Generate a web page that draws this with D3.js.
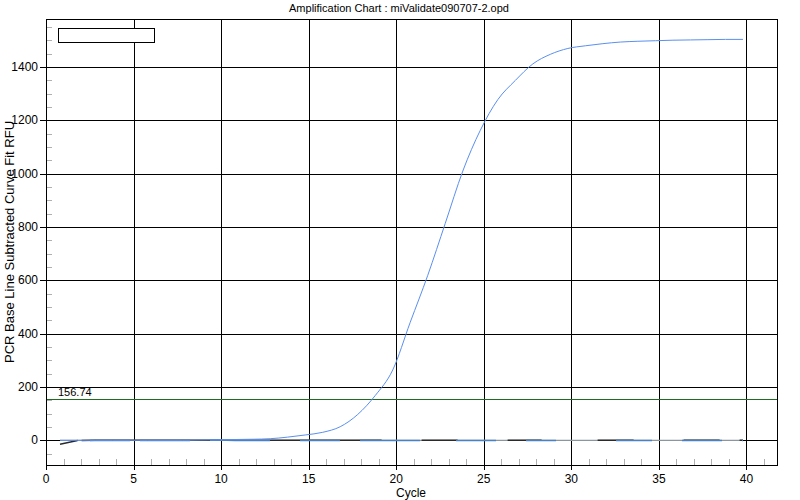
<!DOCTYPE html>
<html><head><meta charset="utf-8">
<script src="https://cdn.jsdelivr.net/npm/d3@7/dist/d3.min.js"></script>
<style>
body{margin:0;background:#fff;}
text{font-family:"Liberation Sans",Arial,sans-serif;fill:#000;}
</style></head>
<body><svg id="c" width="800" height="500"></svg>
<script>
const titleText = "Amplification Chart : miValidate090707-2.opd";
const xLabel = "Cycle";
const yLabel = "PCR Base Line Subtracted Curve Fit RFU";
const xTicks = [0,5,10,15,20,25,30,35,40];
const yTicks = [0,200,400,600,800,1000,1200,1400];
const threshold = 156.74;
const cycles = d3.range(1,41);
const sampleRFU = [0,0,0,0,0,0,0,0,1,2,3,4,6,12,20,30,51,97,168,264,443,619,814,1010,1163,1278,1350,1412,1448,1470,1480,1488,1494,1497,1499,1501,1502,1503,1504,1504];
const baseDark  = [-15,-1,0,0,0,0,0,0,0,0,0,0,0,0,0,0,0,0,0,0,0,0,0,0,0,0,0,0,0,0,0,0,0,0,0,0,0,0,0,0];
const baseSteel = [-1,-1,-1,-1,-1,-1,-1,-1,-1,1,-1,-1,-1,-1,-1,-1,-1,-1,-1,-1,-1,-1,-1,-1,-1,-1,-1,-1,-1,-1,-1,-1,-1,-1,-1,-1,-1,-1,-1,-1];
const baseGray  = [0,0,0,0,0,0,0,0,0,0,0,0,0,0,0,0,0,0,0,0,0,0,0,0,0,0,0,0,0,0,0,0,0,0,0,0,0,0,0,0];

const svg = d3.select("#c");
const L=46, R=778, T=19, B=465;
const x = d3.scaleLinear().domain([0,41.8]).range([L,R]);
const y = d3.scaleLinear().domain([-92.6,1580.5]).range([B,T]);
const off = -0.2;
const px = v => Math.round(v)+0.5;

// minor ticks
const gMinor = svg.append("g").attr("stroke","#b0b0b0").attr("shape-rendering","crispEdges");
d3.range(1,42).filter(c=>c%5!==0).forEach(c=>{
  gMinor.append("line").attr("x1",px(x(c))).attr("x2",px(x(c))).attr("y1",B).attr("y2",B-6);
});
d3.range(-50,1580,50).filter(v=>v%200!==0).forEach(v=>{
  gMinor.append("line").attr("x1",L).attr("x2",L+6).attr("y1",px(y(v))).attr("y2",px(y(v)));
});

// grid
const gGrid = svg.append("g").attr("stroke","#000").attr("shape-rendering","crispEdges");
xTicks.forEach(t=>{
  gGrid.append("line").attr("x1",px(x(t))).attr("x2",px(x(t))).attr("y1",T).attr("y2",B+5);
});
yTicks.forEach(t=>{
  gGrid.append("line").attr("x1",L-6).attr("x2",R).attr("y1",px(y(t))).attr("y2",px(y(t)));
});

// tick labels
xTicks.forEach(t=>{
  svg.append("text").attr("x",x(t)).attr("y",483).attr("text-anchor","middle").attr("font-size","12px").text(t);
});
yTicks.forEach(t=>{
  svg.append("text").attr("x",38).attr("y",y(t)+4).attr("text-anchor","end").attr("font-size","12px").text(t);
});

// threshold
svg.append("line").attr("x1",L).attr("x2",R).attr("y1",px(y(threshold))).attr("y2",px(y(threshold)))
  .attr("stroke","#1f6b1f").attr("shape-rendering","crispEdges");
svg.append("text").attr("x",58).attr("y",396).attr("font-size","11px").text(threshold.toFixed(2));

// lines
const line = d3.line().x((d,i)=>x(cycles[i]+off)).y(d=>y(d));
const smooth = d3.line().x((d,i)=>x(cycles[i]+off)).y(d=>y(d)).curve(d3.curveMonotoneX);
svg.append("path").attr("d",line(baseGray)).attr("fill","none").attr("stroke","#8a96a2").attr("stroke-width",1.2);
svg.append("path").attr("d",line(baseDark)).attr("fill","none").attr("stroke","#2a2a2a").attr("stroke-width",1.5)
  .attr("stroke-dasharray","18,4,300,40,36,50,34,56,36,50,36,20,12,60,30,34,40,50,20,500");
svg.append("path").attr("d",line(baseSteel)).attr("fill","none").attr("stroke","#4a80c4").attr("stroke-width",1.5)
  .attr("stroke-dasharray","0,30,40,10,50,20,60,30,40,20,60,36,40,30,30,60,36,30,40,20,30,40,60,20,40,40,30,200");
svg.append("path").attr("d",smooth(sampleRFU)).attr("fill","none").attr("stroke","#5b8ff0").attr("stroke-width",1);

// frame
svg.append("rect").attr("x",L+0.5).attr("y",T+0.5).attr("width",R-L-1).attr("height",B-T).attr("fill","none").attr("stroke","#000").attr("shape-rendering","crispEdges");

// legend box
svg.append("rect").attr("x",58.5).attr("y",28.5).attr("width",96).attr("height",14).attr("fill","#fff").attr("stroke","#000").attr("shape-rendering","crispEdges");

// titles
svg.append("text").attr("x",399).attr("y",12).attr("text-anchor","middle").attr("font-size","11px").text(titleText);
svg.append("text").attr("x",411).attr("y",497).attr("text-anchor","middle").attr("font-size","12px").text(xLabel);
svg.append("text").attr("transform","translate(14,"+((T+B)/2)+") rotate(-90)").attr("text-anchor","middle").attr("font-size","13px").text(yLabel);
</script></body></html>
